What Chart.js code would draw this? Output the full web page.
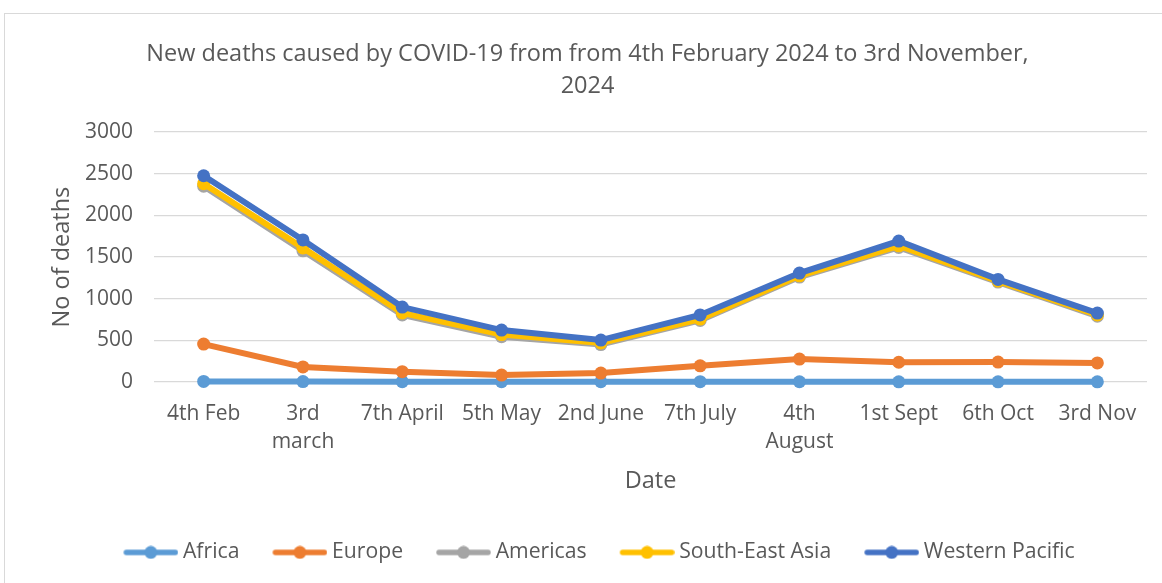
<!DOCTYPE html>
<html>
<head>
<meta charset="utf-8">
<script src="https://cdn.jsdelivr.net/npm/chart.js@4"></script>
<style>
  html, body { margin: 0; padding: 0; background: #fff; overflow: hidden; }
  #wrap { position: relative; width: 1162px; height: 583px; }
  #frame { position: absolute; left: 4px; top: 13px; width: 1200px; height: 600px; border: 1px solid #d9d9d9; }
  canvas { position: absolute; left: 0; top: 0; }
</style>
</head>
<body>
<div id="wrap">
  <div id="frame"></div>
  <canvas id="chart" width="1162" height="583"></canvas>
</div>
<script>
// data
const dates = ['4th Feb', ['3rd', 'march'], '7th April', '5th May', '2nd June', '7th July', ['4th', 'August'], '1st Sept', '6th Oct', '3rd Nov'];
const africa = [8, 6, 5, 4, 4, 5, 4, 3, 3, 3];
const europe = [456, 182, 125, 84, 108, 195, 276, 238, 240, 230];
const americas = [2350, 1575, 805, 545, 450, 740, 1260, 1615, 1200, 790];
const seAsia = [2380, 1610, 830, 570, 470, 756, 1275, 1635, 1212, 805];
const westPacific = [2475, 1705, 900, 624, 504, 806, 1308, 1692, 1232, 828];
const yTicks = [0, 500, 1000, 1500, 2000, 2500, 3000];

const fontFamily = '"Open Sans", sans-serif';
const textColor = '#595959';

// legend marker: line with a dot, drawn on the right part of a wider canvas
function legendMarker(color) {
  const c = document.createElement('canvas');
  c.width = 84;
  c.height = 14;
  const g = c.getContext('2d');
  g.strokeStyle = color;
  g.lineWidth = 5.5;
  g.lineCap = 'round';
  g.beginPath();
  g.moveTo(32, 7);
  g.lineTo(81, 7);
  g.stroke();
  g.fillStyle = color;
  g.beginPath();
  g.arc(56.5, 7, 6.5, 0, Math.PI * 2);
  g.fill();
  return c;
}

function series(label, data, color, order) {
  return {
    label: label,
    data: data,
    borderColor: color,
    backgroundColor: color,
    pointBackgroundColor: color,
    pointBorderColor: color,
    borderWidth: 6,
    pointRadius: 6.5,
    pointBorderWidth: 0,
    tension: 0,
    clip: false,
    order: order,
    marker: legendMarker(color)
  };
}

const datasets = [
  series('Africa', africa, '#5B9BD5', 5),
  series('Europe', europe, '#ED7D31', 4),
  series('Americas', americas, '#A5A5A5', 3),
  series('South-East Asia', seAsia, '#FFC000', 2),
  series('Western Pacific', westPacific, '#4472C4', 1)
];

new Chart(document.getElementById('chart'), {
  type: 'line',
  data: { labels: dates, datasets: datasets },
  options: {
    responsive: false,
    animation: false,
    devicePixelRatio: 1,
    layout: { padding: { left: 28, right: 15, top: 0, bottom: 10 } },
    plugins: {
      tooltip: { enabled: false },
      title: {
        display: true,
        text: ['New deaths caused by COVID-19 from from 4th February 2024 to 3rd November,', '2024'],
        color: textColor,
        font: { family: fontFamily, size: 23.5, weight: 'normal', lineHeight: 32 / 23.5 },
        padding: { top: 38, bottom: 30 }
      },
      legend: {
        position: 'bottom',
        labels: {
          color: textColor,
          font: { family: fontFamily, size: 21.2 },
          usePointStyle: true,
          pointStyleWidth: 72,
          padding: 10,
          generateLabels: function (chart) {
            return chart.data.datasets.map((ds, i) => ({
              text: ds.label,
              datasetIndex: i,
              pointStyle: ds.marker,
              fillStyle: ds.borderColor,
              strokeStyle: ds.borderColor,
              fontColor: textColor,
              lineWidth: 0,
              hidden: false
            }));
          }
        }
      }
    },
    scales: {
      x: {
        offset: true,
        grid: { display: false, drawTicks: false },
        border: { display: false },
        ticks: {
          color: textColor,
          font: { family: fontFamily, size: 21, lineHeight: 28 / 21 },
          padding: 18,
          autoSkip: false,
          maxRotation: 0
        },
        title: {
          display: true,
          text: 'Date',
          color: textColor,
          font: { family: fontFamily, size: 23.5, lineHeight: 1.2 },
          padding: { top: 4, bottom: 36 }
        },
        afterFit: function (scale) { scale.height = 149.7; }
      },
      y: {
        min: 0,
        max: 3000,
        afterBuildTicks: function (scale) {
          scale.ticks = yTicks.map(v => ({ value: v }));
        },
        grid: { color: '#d9d9d9', lineWidth: 1.3, drawTicks: false },
        border: { display: false },
        ticks: {
          color: textColor,
          font: { family: fontFamily, size: 21 },
          padding: 21,
          callback: function (value) { return String(value); }
        },
        title: {
          display: true,
          text: 'No of deaths',
          color: textColor,
          font: { family: fontFamily, size: 23.5, lineHeight: 1.2 },
          padding: { top: 20, bottom: 0 }
        },
        afterFit: function (scale) { scale.width = 126; }
      }
    }
  }
});
</script>
</body>
</html>
